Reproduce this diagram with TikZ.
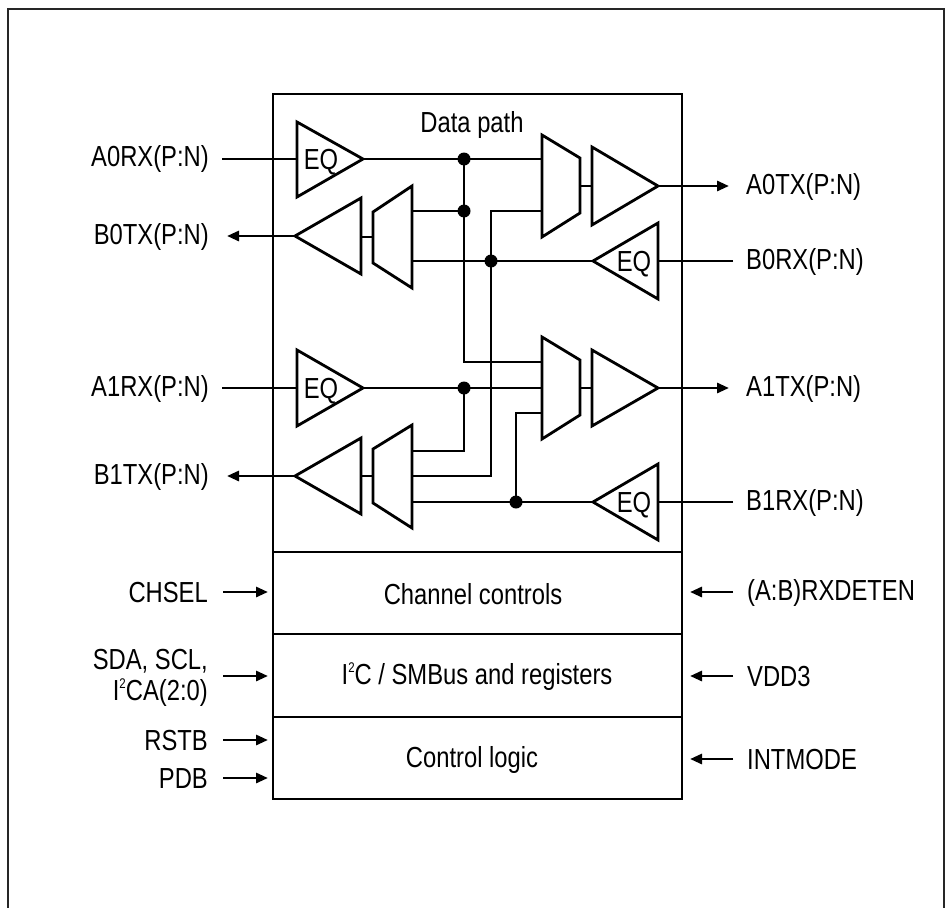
\documentclass[tikz,border=0pt]{standalone}
\usepackage{fontspec}
\setmainfont[FakeStretch=0.82]{Liberation Sans}
\usetikzlibrary{arrows.meta}
\newcommand{\suptwo}{\raisebox{0.42em}{\fontsize{14}{14}\selectfont 2}}
\tikzset{
  wire/.style={line width=2.8pt, line cap=butt, line join=miter},
  blk/.style={line width=2.8pt, line join=miter},
  sig/.style={wire, -{Triangle[length=12pt,width=10pt]}},
  lbl/.style={inner sep=0pt, font=\fontsize{29}{31}\selectfont},
  eqt/.style={inner sep=0pt, font=\fontsize{29}{31}\selectfont},
  dotj/.style={fill=black, draw=none},
}
\begin{document}
\begin{tikzpicture}[x=1pt,y=-1pt]
\useasboundingbox (0,0) rectangle (949,907);
% outer frame (open at the bottom)
\draw[line width=2.8pt, color=black!85] (8,930) -- (8,9) -- (944,9) -- (944,930);

% blocks
\draw[blk] (273,94) rectangle (682,552);
\node[lbl] (dp) at (472,125) {Data path};
\draw[blk] (273,552) rectangle (682,634);
\node[lbl] (cc) at (473,594) {Channel controls};
\draw[blk] (273,634) rectangle (682,717);
\node[lbl] (i2c) at (477,677) {I\suptwo C / SMBus and registers};
\draw[blk] (273,717) rectangle (682,799);
\node[lbl] (cl) at (472,760) {Control logic};

% ---------- channel 0 ----------
\draw[blk] (297,122) -- (363,159) -- (297,197) -- cycle;
\node[eqt] (eqa0) at (321,162) {EQ};
\draw[blk] (542,135) -- (580,158) -- (580,213) -- (542,237) -- cycle;
\draw[blk] (592,147) -- (658,186) -- (592,225) -- cycle;
\draw[blk] (361,198) -- (295,236) -- (361,274) -- cycle;
\draw[blk] (373,212) -- (412,186) -- (412,288) -- (373,263) -- cycle;
\draw[blk] (658,223) -- (593,261) -- (658,299) -- cycle;
\node[eqt] (eqb0) at (634,264) {EQ};

% ---------- channel 1 ----------
\draw[blk] (297,350) -- (363,388) -- (297,426) -- cycle;
\node[eqt] (eqa1) at (321,391) {EQ};
\draw[blk] (542,337) -- (580,360) -- (580,415) -- (542,439) -- cycle;
\draw[blk] (592,350) -- (658,388) -- (592,426) -- cycle;
\draw[blk] (361,438) -- (295,476) -- (361,514) -- cycle;
\draw[blk] (373,449) -- (412,425) -- (412,528) -- (373,503) -- cycle;
\draw[blk] (658,464) -- (593,502) -- (658,540) -- cycle;
\node[eqt] (eqb1) at (634,505) {EQ};

% junction coordinates
\coordinate (j1) at (464,159);
\coordinate (j2) at (464,211);
\coordinate (j3) at (491,261);
\coordinate (j4) at (464,388);
\coordinate (j5) at (516,502);

% ---------- wires channel 0 ----------
\draw[wire] (363,159) -- (542,159);
\draw[wire] (j1) -- (464,362) -- (542,362);
\draw[wire] (j2) -- (412,211);
\draw[wire] (542,211) -- (491,211) -- (491,476) -- (412,476);
\draw[wire] (593,261) -- (412,261);
\draw[wire] (580,186) -- (592,186);
\draw[wire] (373,237) -- (361,237);
% ---------- wires channel 1 ----------
\draw[wire] (363,388) -- (542,388);
\draw[wire] (j4) -- (464,451) -- (412,451);
\draw[wire] (542,413) -- (516,413) -- (j5);
\draw[wire] (593,502) -- (412,502);
\draw[wire] (580,388) -- (592,388);
\draw[wire] (373,476) -- (361,476);

% dots
\foreach \j in {j1,j2,j3,j4,j5} \fill[dotj] (\j) circle (6.5);

% ---------- external pins, data ----------
\node[lbl, anchor=east] (a0rx) at (209,159) {A0RX(P:N)};
\node[lbl, anchor=east] (b0tx) at (209,237) {B0TX(P:N)};
\node[lbl, anchor=east] (a1rx) at (209,389) {A1RX(P:N)};
\node[lbl, anchor=east] (b1tx) at (209,477) {B1TX(P:N)};
\node[lbl, anchor=west] (a0tx) at (746,187) {A0TX(P:N)};
\node[lbl, anchor=west] (b0rx) at (746,262) {B0RX(P:N)};
\node[lbl, anchor=west] (a1tx) at (746,389) {A1TX(P:N)};
\node[lbl, anchor=west] (b1rx) at (746,503) {B1RX(P:N)};

\draw[wire] (222,159) -- (297,159);
\draw[wire] (222,388) -- (297,388);
\draw[sig] (295,236) -- (227,236);
\draw[sig] (295,476) -- (227,476);
\draw[sig] (658,186) -- (729,186);
\draw[sig] (658,388) -- (729,388);
\draw[wire] (733,261) -- (658,261);
\draw[wire] (733,502) -- (658,502);

% ---------- control pins ----------
\node[lbl, anchor=east] (chsel) at (208,593) {CHSEL};
\node[lbl, anchor=east, align=right] (sda) at (208,678) {SDA, SCL,\\I\suptwo CA(2:0)};
\node[lbl, anchor=east] (rstb) at (208,741) {RSTB};
\node[lbl, anchor=east] (pdb) at (208,779) {PDB};
\node[lbl, anchor=west] (rxdet) at (747,593) {(A:B)RXDETEN};
\node[lbl, anchor=west] (vdd) at (747,677) {VDD3};
\node[lbl, anchor=west] (intm) at (747,760) {INTMODE};

\draw[sig] (223,592) -- (268,592);
\draw[sig] (223,676) -- (268,676);
\draw[sig] (223,740) -- (268,740);
\draw[sig] (223,778) -- (268,778);
\draw[sig] (733,592) -- (690,592);
\draw[sig] (733,676) -- (690,676);
\draw[sig] (733,759) -- (690,759);
\end{tikzpicture}
\end{document}
